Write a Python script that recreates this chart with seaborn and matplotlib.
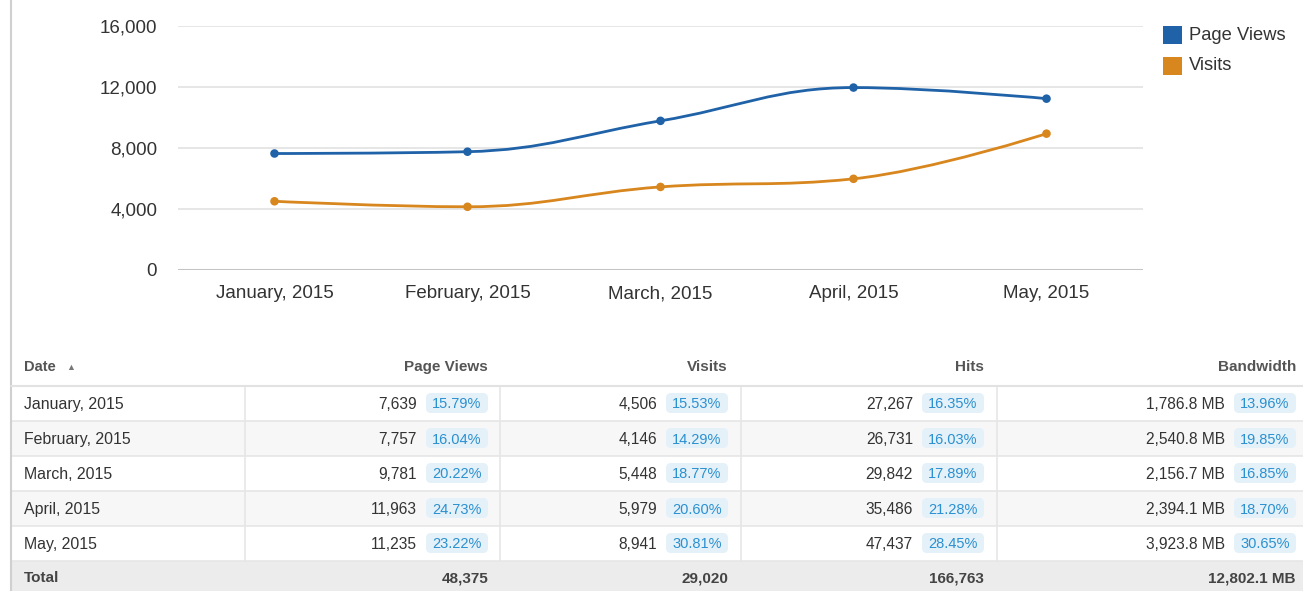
import numpy as np
import pandas as pd
import matplotlib
matplotlib.use('Agg')
import matplotlib.pyplot as plt
from matplotlib.path import Path
from matplotlib.patches import PathPatch, Rectangle, FancyBboxPatch
import seaborn as sns

# data
months = ['January, 2015', 'February, 2015', 'March, 2015', 'April, 2015', 'May, 2015']
series_names = ['Page Views', 'Visits']
page_views = [7639, 7757, 9781, 11963, 11235]
visits = [4506, 4146, 5448, 5979, 8941]
hits = [27267, 26731, 29842, 35486, 47437]
bandwidth_mb = [1786.8, 2540.8, 2156.7, 2394.1, 3923.8]
pv_pct = ['15.79%', '16.04%', '20.22%', '24.73%', '23.22%']
visits_pct = ['15.53%', '14.29%', '18.77%', '20.60%', '30.81%']
hits_pct = ['16.35%', '16.03%', '17.89%', '21.28%', '28.45%']
bw_pct = ['13.96%', '19.85%', '16.85%', '18.70%', '30.65%']
totals = ['48,375', '29,020', '166,763', '12,802.1 MB']
y_ticks = [0, 4000, 8000, 12000, 16000]

colors = {'Page Views': '#1f62a8', 'Visits': '#d8861e'}

sns.set_style('white')
plt.rcParams['font.family'] = ['Liberation Sans', 'DejaVu Sans']

W, H = 1303, 591
fig = plt.figure(figsize=(W / 100, H / 100), dpi=100)
fig.patch.set_facecolor('white')

# overlay in pixel coords for the table, legend and border
ov = fig.add_axes([0, 0, 1, 1])
ov.set_xlim(0, W)
ov.set_ylim(H, 0)
ov.axis('off')

ax = fig.add_axes([178 / W, 1 - 270 / H, 965 / W, 244 / H])
ax.set_facecolor('none')

df = pd.DataFrame({
    'pos': list(range(len(months))) * 2,
    'value': page_views + visits,
    'series': [series_names[0]] * len(months) + [series_names[1]] * len(months),
})


def spline_path(xs, ys, smoothing=1.5):
    # highcharts-style spline through the points
    n = len(xs)
    verts = [(xs[0], ys[0])]
    codes = [Path.MOVETO]
    left, right = [None] * n, [None] * n
    for i in range(n):
        if i == 0 or i == n - 1:
            left[i] = right[i] = (xs[i], ys[i])
            continue
        d = smoothing + 1
        lx = (smoothing * xs[i] + xs[i - 1]) / d
        ly = (smoothing * ys[i] + ys[i - 1]) / d
        rx = (smoothing * xs[i] + xs[i + 1]) / d
        ry = (smoothing * ys[i] + ys[i + 1]) / d
        corr = (ry - ly) * (rx - xs[i]) / (rx - lx) + ys[i] - ry
        ly += corr
        ry += corr
        if ly > ys[i - 1] and ly > ys[i]:
            ly = max(ys[i - 1], ys[i])
            ry = 2 * ys[i] - ly
        elif ly < ys[i - 1] and ly < ys[i]:
            ly = min(ys[i - 1], ys[i])
            ry = 2 * ys[i] - ly
        if ry > ys[i + 1] and ry > ys[i]:
            ry = max(ys[i + 1], ys[i])
            ly = 2 * ys[i] - ry
        elif ry < ys[i + 1] and ry < ys[i]:
            ry = min(ys[i + 1], ys[i])
            ly = 2 * ys[i] - ry
        left[i] = (lx, ly)
        right[i] = (rx, ry)
    for i in range(1, n):
        verts += [right[i - 1], left[i], (xs[i], ys[i])]
        codes += [Path.CURVE4] * 3
    return Path(verts, codes)


ax.set_xlim(-0.5, len(months) - 0.5)
ax.set_ylim(0, 16000)
ax.set_yticks(y_ticks)
ax.set_yticklabels([f'{t:,}' for t in y_ticks])
ax.set_xticks(range(len(months)))
ax.set_xticklabels(months)
ax.yaxis.grid(True, color='#e4e4e4', lw=1.3)
ax.set_axisbelow(True)
ax.axhline(0, color='#c4c4c4', lw=2.2, zorder=1)
sns.despine(ax=ax, left=True, bottom=True)
ax.tick_params(axis='y', length=0, pad=15, labelsize=13.5, labelcolor='#333333')
ax.tick_params(axis='x', length=0, pad=20.5, labelsize=13.5, labelcolor='#333333')
for lbl in ax.get_xticklabels():
    lbl.set_va('baseline')

for name, vals in zip(series_names, [page_views, visits]):
    p = spline_path(list(range(len(vals))), vals)
    ax.add_patch(PathPatch(p, facecolor='none', edgecolor=colors[name], lw=2, zorder=2))

sns.scatterplot(data=df, x='pos', y='value', hue='series', palette=colors,
                s=38, linewidth=0, legend=False, ax=ax, zorder=3)
ax.set_xlabel('')
ax.set_ylabel('')

# legend
for i, name in enumerate(series_names):
    y0 = 26 + i * 31
    ov.add_patch(Rectangle((1163, y0), 19, 18, facecolor=colors[name], edgecolor='none'))
    ov.text(1189, y0 + 9, name, fontsize=13.2, color='#333333', va='center', ha='left')

# left border line
ov.plot([11, 11], [0, H], color='#d0d0d0', lw=1.5)

# ---- table ----
header_bot = 386
row_h = 35
col_edges = [11, 245, 500, 741, 997, 1303]
right_anchor = [None, 488, 728, 984, 1296]
headers = ['Page Views', 'Visits', 'Hits', 'Bandwidth']

ov.text(24, 367, 'Date', fontsize=10.5, fontweight='bold', color='#555555', va='center', ha='left')
ov.text(66, 368, '▲', fontsize=6.5, color='#777777', va='center', ha='left')
for j, h in enumerate(headers):
    ov.text(right_anchor[j + 1], 367, h, fontsize=11, fontweight='bold', color='#555555',
            va='center', ha='right')
ov.plot([11, W], [header_bot, header_bot], color='#e2e2e2', lw=1.5)

cols = [
    ([f'{v:,}' for v in page_views], pv_pct),
    ([f'{v:,}' for v in visits], visits_pct),
    ([f'{v:,}' for v in hits], hits_pct),
    ([f'{v:,.1f} MB' for v in bandwidth_mb], bw_pct),
]

for i, m in enumerate(months):
    top = header_bot + i * row_h
    fc = '#ffffff' if i % 2 == 0 else '#f7f7f7'
    ov.add_patch(Rectangle((11, top), W - 11, row_h, facecolor=fc, edgecolor='none', zorder=0))
    ov.plot([11, W], [top + row_h, top + row_h], color='#e6e6e6', lw=1.2, zorder=1)
    yc = top + 17
    ov.text(24, yc, m, fontsize=11.4, color='#333333', va='center_baseline', ha='left')
    for j, (nums, pcts) in enumerate(cols):
        ra = right_anchor[j + 1]
        bw = 62
        ov.add_patch(FancyBboxPatch((ra - bw, yc - 10), bw, 20,
                                    boxstyle='round,pad=0,rounding_size=5',
                                    facecolor='#e5f1f9', edgecolor='none', zorder=1))
        ov.text(ra - bw / 2, yc, pcts[i], fontsize=10.5, color='#2a90d0',
                va='center_baseline', ha='center', zorder=2)
        ov.text(ra - bw - 9, yc, nums[i], fontsize=11.2, color='#333333',
                va='center_baseline', ha='right', zorder=2)

rows_bot = header_bot + len(months) * row_h
for x in col_edges[1:-1]:
    ov.plot([x, x], [header_bot, rows_bot], color='#e6e6e6', lw=1.2, zorder=1)

# total row
ov.add_patch(Rectangle((11, rows_bot), W - 11, H - rows_bot, facecolor='#ececec', edgecolor='none', zorder=0))
ty = rows_bot + 16
ov.text(24, ty, 'Total', fontsize=11, fontweight='bold', color='#444444', va='center_baseline', ha='left')
for j, t in enumerate(totals):
    ov.text(right_anchor[j + 1], ty, t, fontsize=11, fontweight='bold', color='#444444',
            va='center_baseline', ha='right')

fig.savefig('out.png', dpi=100)
